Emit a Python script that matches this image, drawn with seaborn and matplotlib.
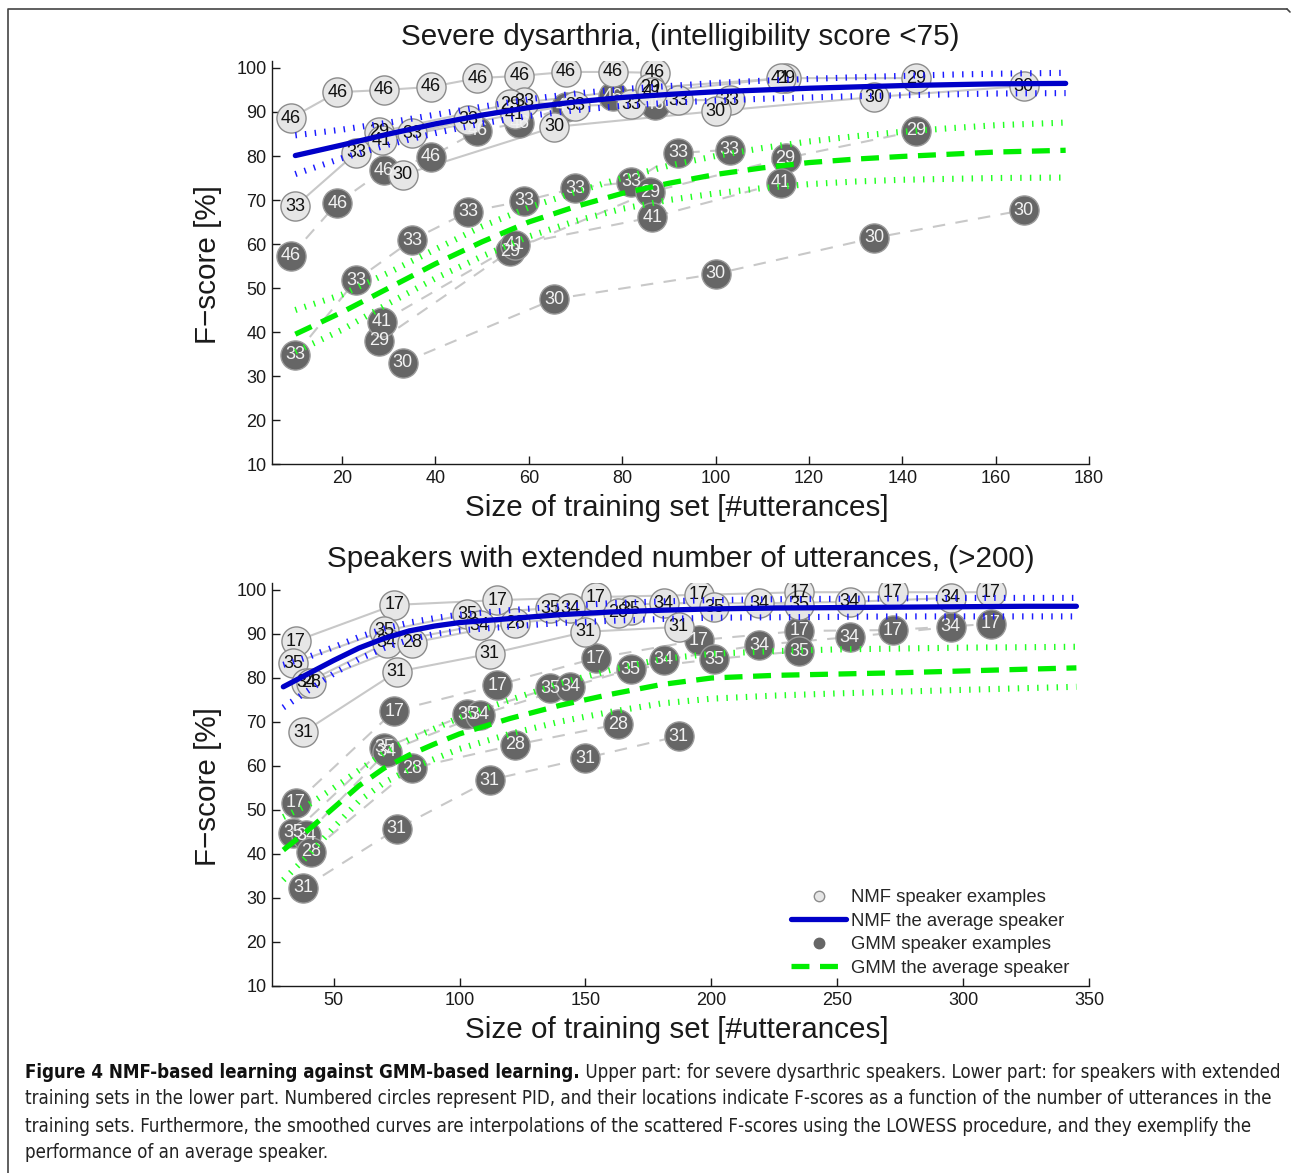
import numpy as np
import pandas as pd
import matplotlib
matplotlib.use('Agg')
import matplotlib.pyplot as plt
import seaborn as sns
from matplotlib.lines import Line2D

# ---------------- upper panel: severe dysarthria ----------------
sev_x_46 = [9, 19, 29, 39, 49, 58, 68, 78, 87]
sev_nmf_46 = [88.6, 94.5, 95.0, 95.7, 97.7, 98.2, 99.1, 99.1, 98.9]
sev_gmm_46 = [57.3, 69.3, 76.8, 79.8, 85.7, 87.5, 91.2, 93.6, 91.6]

sev_x_33 = [10, 23, 35, 47, 59, 70, 82, 92, 103]
sev_nmf_33 = [68.6, 80.7, 85.2, 88.2, 92.3, 91.4, 91.8, 92.7, 92.7]
sev_gmm_33 = [34.8, 51.8, 60.9, 67.3, 69.8, 72.7, 74.1, 80.7, 81.4]

sev_x_29 = [28, 56, 86, 115, 143]
sev_nmf_29 = [85.5, 91.8, 95.5, 97.7, 97.7]
sev_gmm_29 = [38.0, 58.4, 71.8, 79.5, 85.7]

sev_x_30 = [33, 65.5, 100, 134, 166]
sev_nmf_30 = [75.7, 86.6, 90.2, 93.4, 95.9]
sev_gmm_30 = [33.0, 47.5, 53.2, 61.4, 67.7]

sev_x_41 = [28.5, 57, 86.5, 114]
sev_nmf_41 = [83.6, 89.5, 94.5, 97.7]
sev_gmm_41 = [42.3, 59.8, 66.1, 73.9]

sev_avg_x = [10, 20, 30, 40, 50, 60, 70, 80, 90, 100, 110, 120, 130, 140, 150, 160, 175]
sev_nmf_avg = [80.1, 82.5, 85.0, 87.3, 89.3, 91.0, 92.3, 93.3, 94.0, 94.6, 95.0, 95.4, 95.7, 96.0, 96.2, 96.4, 96.5]
sev_nmf_up = [84.7, 86.0, 87.6, 89.4, 91.2, 92.9, 94.2, 95.2, 95.9, 96.6, 97.1, 97.5, 97.9, 98.2, 98.5, 98.7, 98.9]
sev_nmf_lo = [75.9, 79.5, 82.6, 85.2, 87.4, 89.1, 90.4, 91.4, 92.1, 92.6, 93.0, 93.3, 93.6, 93.8, 94.0, 94.2, 94.3]
sev_gmm_avg = [39.5, 44.5, 50.0, 55.5, 60.5, 65.0, 68.5, 71.5, 73.8, 75.8, 77.3, 78.5, 79.3, 79.9, 80.4, 80.9, 81.3]
sev_gmm_up = [45.0, 48.5, 53.5, 58.8, 64.0, 68.3, 71.8, 75.0, 77.8, 80.0, 81.8, 83.3, 84.5, 85.5, 86.3, 87.0, 87.6]
sev_gmm_lo = [35.5, 40.5, 46.5, 52.2, 57.2, 61.7, 65.2, 68.0, 70.0, 71.5, 72.7, 73.6, 74.2, 74.6, 74.8, 75.0, 75.1]

# ---------------- lower panel: extended number of utterances ----------------
ext_x_17 = [35, 74, 115, 154, 195, 235, 272, 311]
ext_nmf_17 = [88.4, 96.6, 97.7, 98.4, 98.9, 99.5, 99.5, 99.5]
ext_gmm_17 = [51.6, 72.5, 78.4, 84.5, 88.6, 90.7, 90.9, 92.3]

ext_x_35 = [34, 70, 103, 136, 168, 201, 235]
ext_nmf_35 = [83.4, 90.7, 94.5, 95.9, 95.5, 96.1, 96.6]
ext_gmm_35 = [44.8, 64.1, 71.8, 77.7, 82.0, 84.3, 86.1]

ext_x_34 = [39, 71, 108, 144, 181, 219, 255, 295]
ext_nmf_34 = [78.9, 88.0, 92.0, 95.9, 97.0, 97.0, 97.3, 98.2]
ext_gmm_34 = [44.3, 63.2, 71.6, 78.0, 84.1, 87.5, 89.3, 91.6]

ext_x_28 = [41, 81, 122, 163]
ext_nmf_28 = [78.9, 88.0, 92.5, 94.8]
ext_gmm_28 = [40.5, 59.5, 64.8, 69.5]

ext_x_31 = [38, 75, 112, 150, 187]
ext_nmf_31 = [67.7, 81.4, 85.5, 90.5, 91.6]
ext_gmm_31 = [32.3, 45.7, 56.8, 61.8, 66.8]

ext_avg_x = [30, 40, 50, 60, 70, 80, 90, 100, 120, 140, 160, 180, 200, 225, 250, 275, 300, 325, 345]
ext_nmf_avg = [78.0, 81.0, 84.0, 86.8, 89.0, 90.7, 91.8, 92.6, 93.5, 94.4, 95.0, 95.4, 95.7, 95.9, 96.0, 96.1, 96.2, 96.3, 96.3]
ext_nmf_up = [83.0, 84.8, 87.0, 89.3, 91.2, 92.6, 93.6, 94.4, 95.4, 96.3, 97.0, 97.4, 97.7, 97.9, 98.0, 98.1, 98.2, 98.2, 98.2]
ext_nmf_lo = [73.3, 77.2, 81.0, 84.3, 86.8, 88.7, 90.0, 90.8, 91.7, 92.5, 93.0, 93.4, 93.7, 93.8, 93.9, 94.0, 94.0, 94.0, 94.0]
ext_gmm_avg = [40.9, 45.5, 50.5, 55.5, 59.5, 62.5, 65.0, 67.3, 70.8, 73.8, 76.3, 78.5, 80.0, 80.6, 80.9, 81.2, 81.6, 82.0, 82.3]
ext_gmm_up = [48.4, 51.2, 55.0, 59.0, 63.0, 66.0, 68.5, 71.0, 75.0, 78.8, 81.8, 84.3, 85.5, 86.1, 86.5, 86.7, 86.9, 87.0, 87.1]
ext_gmm_lo = [34.1, 39.8, 46.0, 52.0, 56.2, 59.2, 61.6, 63.9, 67.3, 70.1, 72.3, 74.2, 75.3, 76.0, 76.5, 76.9, 77.3, 77.7, 78.0]

sev_speakers = {'46': (sev_x_46, sev_nmf_46, sev_gmm_46),
                '33': (sev_x_33, sev_nmf_33, sev_gmm_33),
                '29': (sev_x_29, sev_nmf_29, sev_gmm_29),
                '30': (sev_x_30, sev_nmf_30, sev_gmm_30),
                '41': (sev_x_41, sev_nmf_41, sev_gmm_41)}
ext_speakers = {'17': (ext_x_17, ext_nmf_17, ext_gmm_17),
                '35': (ext_x_35, ext_nmf_35, ext_gmm_35),
                '34': (ext_x_34, ext_nmf_34, ext_gmm_34),
                '28': (ext_x_28, ext_nmf_28, ext_gmm_28),
                '31': (ext_x_31, ext_nmf_31, ext_gmm_31)}

top_title = "Severe dysarthria, (intelligibility score <75)"
bot_title = "Speakers with extended number of utterances, (>200)"
xlab = "Size of training set [#utterances]"
ylab = "F\u2212score [%]"
top_xticks = [20, 40, 60, 80, 100, 120, 140, 160, 180]
bot_xticks = [50, 100, 150, 200, 250, 300, 350]
yticks = [10, 20, 30, 40, 50, 60, 70, 80, 90, 100]
legend_labels = ["NMF speaker examples", "NMF the average speaker",
                 "GMM speaker examples", "GMM the average speaker"]

# ---------------- styling ----------------
sns.set_theme(style='ticks')
plt.rcParams['font.family'] = ['Liberation Sans', 'DejaVu Sans']
plt.rcParams['axes.linewidth'] = 1.0

LIGHT_FACE = '#e6e6e6'
LIGHT_EDGE = '#8c8c8c'
DARK_FACE = '#666666'
DARK_EDGE = '#9a9a9a'
GRAYLINE = '#c8c8c8'
BLUE = '#0000c8'
BLUE_BAND = '#1a1aff'
GREEN = '#00ee00'
GREEN_BAND = '#22ff22'
LABEL_FS = 21.3
TICK_FS = 13

W, H = 1291, 1173
fig = plt.figure(figsize=(W / 100, H / 100), dpi=100)

def fx(px):
    return px / W

def fy(py):
    return 1 - py / H

ax_w = (1089 - 272) / W
ax_h = (464 - 61.4) / H
ax_top = fig.add_axes([fx(272), fy(464), ax_w, ax_h])
ax_bot = fig.add_axes([fx(272), fy(986), ax_w, ax_h])


def draw_panel(ax, speakers, avg_x, nmf_avg, nmf_up, nmf_lo, gmm_avg, gmm_up, gmm_lo):
    for pid, (x, nmf, gmm) in speakers.items():
        sns.lineplot(x=x, y=nmf, ax=ax, color=GRAYLINE, lw=1.5, estimator=None, zorder=1)
        sns.lineplot(x=x, y=gmm, ax=ax, color=GRAYLINE, lw=1.5, estimator=None,
                     linestyle=(0, (6, 5)), zorder=1)
    for pid, (x, nmf, gmm) in speakers.items():
        sns.scatterplot(x=x, y=gmm, ax=ax, s=440, color=DARK_FACE, edgecolor=DARK_EDGE,
                        linewidth=1.0, zorder=2)
        for xi, yi in zip(x, gmm):
            ax.text(xi, yi, pid, ha='center', va='center', fontsize=13,
                    color='#f2f2f2', zorder=3)
    for pid, (x, nmf, gmm) in speakers.items():
        sns.scatterplot(x=x, y=nmf, ax=ax, s=440, color=LIGHT_FACE, edgecolor=LIGHT_EDGE,
                        linewidth=1.0, zorder=2)
        for xi, yi in zip(x, nmf):
            ax.text(xi, yi, pid, ha='center', va='center', fontsize=13,
                    color='#111111', zorder=3)
    band = dict(lw=4.4, linestyle=(0, (0.24, 1.35)), estimator=None, zorder=4)
    sns.lineplot(x=avg_x, y=nmf_up, ax=ax, color=BLUE_BAND, **band)
    sns.lineplot(x=avg_x, y=nmf_lo, ax=ax, color=BLUE_BAND, **band)
    sns.lineplot(x=avg_x, y=gmm_up, ax=ax, color=GREEN_BAND, **band)
    sns.lineplot(x=avg_x, y=gmm_lo, ax=ax, color=GREEN_BAND, **band)
    sns.lineplot(x=avg_x, y=nmf_avg, ax=ax, color=BLUE, lw=3.8, estimator=None, zorder=5)
    sns.lineplot(x=avg_x, y=gmm_avg, ax=ax, color=GREEN, lw=3.8, estimator=None,
                 linestyle=(0, (3.4, 2.0)), zorder=5)
    ax.set_ylim(10, 101.5)
    ax.set_yticks(yticks)
    sns.despine(ax=ax)
    ax.tick_params(direction='in', length=6, width=1, labelsize=TICK_FS, color='k',
                   labelcolor='k', pad=4)
    for s in ('left', 'bottom'):
        ax.spines[s].set_color('k')
    ax.set_facecolor('white')
    ax.set_xlabel(xlab, fontsize=LABEL_FS, color='k')
    ax.set_ylabel(ylab, fontsize=LABEL_FS, color='k')


draw_panel(ax_top, sev_speakers, sev_avg_x, sev_nmf_avg, sev_nmf_up, sev_nmf_lo,
           sev_gmm_avg, sev_gmm_up, sev_gmm_lo)
ax_top.set_xlim(5, 180)
ax_top.set_xticks(top_xticks)
draw_panel(ax_bot, ext_speakers, ext_avg_x, ext_nmf_avg, ext_nmf_up, ext_nmf_lo,
           ext_gmm_avg, ext_gmm_up, ext_gmm_lo)
ax_bot.set_xlim(25.5, 350)
ax_bot.set_xticks(bot_xticks)

for ax, xl_py, yl_py, title, t_py, bot_py in [
        (ax_top, 508, 265, top_title, 37, 464),
        (ax_bot, 1030, 787, bot_title, 559, 986)]:
    top_py = bot_py - (464 - 61.4)
    hh = bot_py - top_py
    ax.xaxis.label.set_va('center')
    ax.xaxis.set_label_coords(((677 - 272) / 817), -(xl_py - bot_py) / hh)
    ax.yaxis.label.set_va('center')
    ax.yaxis.set_label_coords(-(272 - 208) / 817, (bot_py - yl_py) / hh)
    ax.set_title(title, fontsize=LABEL_FS, color='k', y=(bot_py - t_py) / hh,
                 va='center', pad=0)

# legend in lower panel
handles = [
    Line2D([], [], marker='o', ls='none', markersize=7.5, mfc=LIGHT_FACE, mec=LIGHT_EDGE, mew=1),
    Line2D([], [], color=BLUE, lw=3.8),
    Line2D([], [], marker='o', ls='none', markersize=7.5, mfc=DARK_FACE, mec=DARK_FACE, mew=1),
    Line2D([], [], color=GREEN, lw=3.8, linestyle=(0, (3.4, 2.0))),
]
ax_bot.legend(handles, legend_labels, loc='upper left',
              bbox_to_anchor=((791 - 272) / 817, (986 - 889) / (986 - 583.4)),
              frameon=False, fontsize=13.3, handlelength=3.0, handletextpad=0.25,
              labelspacing=0.36, borderpad=0, borderaxespad=0)

# outer border (top and left)
fig.add_artist(Line2D([fx(8), fx(8), fx(1287)], [fy(H + 5), fy(9), fy(9)],
                      transform=fig.transFigure, color='#444444', lw=1.2))
fig.add_artist(Line2D([fx(1287), fx(1290)], [fy(9), fy(12)],
                      transform=fig.transFigure, color='#444444', lw=1.2))

# caption
cap_font = ['Liberation Sans Narrow', 'DejaVu Sans']
cap_bold = "Figure 4 NMF-based learning against GMM-based learning."
cap_lines = [
    " Upper part: for severe dysarthric speakers. Lower part: for speakers with extended",
    "training sets in the lower part. Numbered circles represent PID, and their locations indicate F-scores as a function of the number of utterances in the",
    "training sets. Furthermore, the smoothed curves are interpolations of the scattered F-scores using the LOWESS procedure, and they exemplify the",
    "performance of an average speaker.",
]
cap_y = [1072, 1099, 1126, 1152]
renderer = fig.canvas.get_renderer()
probe = fig.text(fx(25), fy(1099), cap_lines[1], family=cap_font, fontsize=13,
                 fontstretch='condensed', va='center')
wpx = probe.get_window_extent(renderer).width
cap_size = 13 * (1251 / wpx)
probe.remove()

tb = fig.text(fx(25), fy(cap_y[0]), cap_bold, family=cap_font, fontsize=cap_size,
              fontstretch='condensed', fontweight='bold', va='center', color='#111111')
bb = tb.get_window_extent(renderer)
fig.text(bb.x1 / W, fy(cap_y[0]), cap_lines[0], family=cap_font, fontsize=cap_size,
         fontstretch='condensed', va='center', color='#222222')
for line, py in zip(cap_lines[1:], cap_y[1:]):
    fig.text(fx(25), fy(py), line, family=cap_font, fontsize=cap_size,
             fontstretch='condensed', va='center', color='#222222')

fig.savefig('out.png', dpi=100, facecolor='white')
